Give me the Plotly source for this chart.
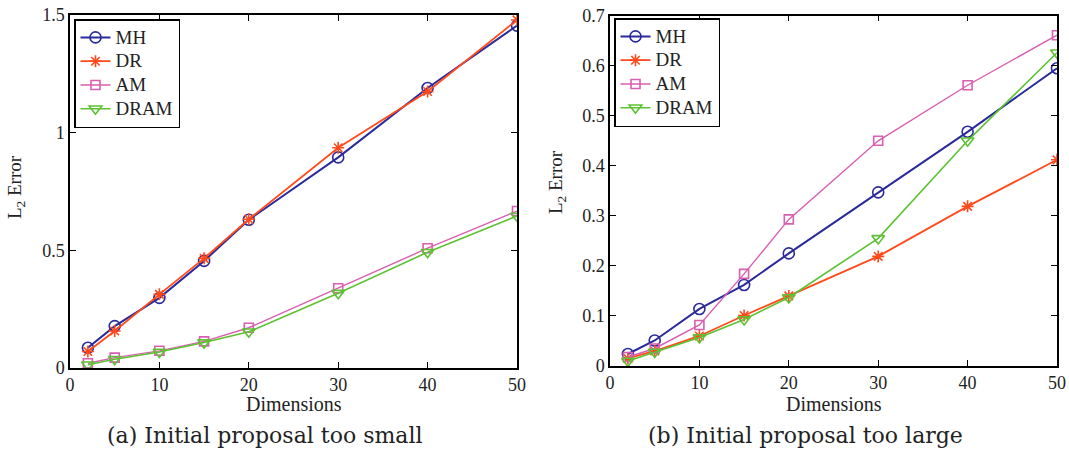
import plotly.graph_objects as go

dims = [2, 5, 10, 15, 20, 30, 40, 50]
series_names = ["MH", "DR", "AM", "DRAM"]

# (a) Initial proposal too small
small_MH = [0.086, 0.178, 0.298, 0.455, 0.630, 0.895, 1.190, 1.455]
small_DR = [0.070, 0.157, 0.313, 0.466, 0.632, 0.936, 1.175, 1.479]
small_AM = [0.020, 0.044, 0.073, 0.113, 0.171, 0.339, 0.509, 0.667]
small_DRAM = [0.014, 0.037, 0.068, 0.108, 0.154, 0.318, 0.492, 0.646]

# (b) Initial proposal too large
large_MH = [0.024, 0.051, 0.114, 0.162, 0.225, 0.347, 0.468, 0.595]
large_DR = [0.015, 0.030, 0.060, 0.101, 0.140, 0.219, 0.319, 0.412]
large_AM = [0.018, 0.035, 0.082, 0.184, 0.293, 0.450, 0.561, 0.661]
large_DRAM = [0.010, 0.028, 0.057, 0.093, 0.137, 0.255, 0.450, 0.626]

x_ticks = [0, 10, 20, 30, 40, 50]
y_ticks_a = [0, 0.5, 1, 1.5]
y_ticklabels_a = ["0", "0.5", "1", "1.5"]
y_ticks_b = [0, 0.1, 0.2, 0.3, 0.4, 0.5, 0.6, 0.7]
y_ticklabels_b = ["0", "0.1", "0.2", "0.3", "0.4", "0.5", "0.6", "0.7"]

captions = ["(a) Initial proposal too small", "(b) Initial proposal too large"]

colors = {"MH": "#2a2a9c", "DR": "#ff4a1c", "AM": "#d95fb0", "DRAM": "#5cc232"}
symbols = {"MH": "circle-open", "DR": "asterisk-open", "AM": "square-open", "DRAM": "triangle-down-open"}
msize = {"MH": 11, "DR": 10, "AM": 9, "DRAM": 11}
lw = {"MH": 2.0, "DR": 1.8, "AM": 1.4, "DRAM": 1.6}

SERIF = "Liberation Serif, Times New Roman, serif"
CAPFONT = "DejaVu Serif, serif"
W, H = 1069, 457

fig = go.Figure()

data_a = dict(zip(series_names, [small_MH, small_DR, small_AM, small_DRAM]))
data_b = dict(zip(series_names, [large_MH, large_DR, large_AM, large_DRAM]))

def legend_name(n):
    return '<span style="font-size:19px">' + n + '</span>'

for name in series_names:
    fig.add_trace(go.Scatter(
        x=dims, y=data_a[name], name=legend_name(name), mode="lines+markers",
        line=dict(color=colors[name], width=lw[name]),
        marker=dict(symbol=symbols[name], size=msize[name],
                    line=dict(color=colors[name], width=1.6)),
        xaxis="x", yaxis="y", legend="legend"))
for name in series_names:
    fig.add_trace(go.Scatter(
        x=dims, y=data_b[name], name=legend_name(name), mode="lines+markers",
        line=dict(color=colors[name], width=lw[name]),
        marker=dict(symbol=symbols[name], size=msize[name],
                    line=dict(color=colors[name], width=1.6)),
        xaxis="x2", yaxis="y2", legend="legend2"))

def px_x(p):
    return p / W

def px_y(p):
    return 1 - p / H

axis_common = dict(showline=True, mirror="ticks", linecolor="black", linewidth=1.5,
                   ticks="inside", ticklen=6, tickwidth=1.2, tickcolor="black",
                   showgrid=False, zeroline=False, automargin=False,
                   tickfont=dict(family=SERIF, size=18, color="#222"))

legend_common = dict(xanchor="left", yanchor="top",
                     bgcolor="white", bordercolor="black", borderwidth=1.5,
                     font=dict(family=SERIF, size=16, color="#222"),
                     tracegroupgap=0, itemwidth=30)

fig.update_layout(
    template="none",
    width=W, height=H, margin=dict(l=0, r=0, t=0, b=0, pad=0),
    paper_bgcolor="white", plot_bgcolor="white",
    xaxis=dict(domain=[px_x(70), px_x(517)], range=[0, 50], tickvals=x_ticks,
               anchor="y", **axis_common),
    yaxis=dict(domain=[px_y(368), px_y(15)], range=[0, 1.5], tickvals=y_ticks_a,
               ticktext=y_ticklabels_a, anchor="x", **axis_common),
    xaxis2=dict(domain=[px_x(610), px_x(1057)], range=[0, 50], tickvals=x_ticks,
                anchor="y2", **axis_common),
    yaxis2=dict(domain=[px_y(366), px_y(15.7)], range=[0, 0.7], tickvals=y_ticks_b,
                ticktext=y_ticklabels_b, anchor="x2", **axis_common),
    legend=dict(x=px_x(74), y=px_y(19), **legend_common),
    legend2=dict(x=px_x(614), y=px_y(18), **legend_common),
    showlegend=True,
)

annots = []
for cx in [294, 834]:
    annots.append(dict(text="Dimensions", x=px_x(cx), y=px_y(404), xref="paper", yref="paper",
                       xanchor="center", yanchor="middle", showarrow=False,
                       font=dict(family=SERIF, size=20, color="#222")))
for cx, cy in [(16, 187), (557, 182)]:
    annots.append(dict(text="L<sub>2</sub> Error", x=px_x(cx), y=px_y(cy), xref="paper", yref="paper",
                       xanchor="center", yanchor="middle", showarrow=False, textangle=-90,
                       font=dict(family=SERIF, size=19, color="#222")))
for cx, cap in zip([264, 805], captions):
    annots.append(dict(text=cap, x=px_x(cx), y=px_y(435), xref="paper", yref="paper",
                       xanchor="center", yanchor="middle", showarrow=False,
                       font=dict(family=CAPFONT, size=22, color="#222")))
fig.update_layout(annotations=annots)

fig.write_html("out.html")
